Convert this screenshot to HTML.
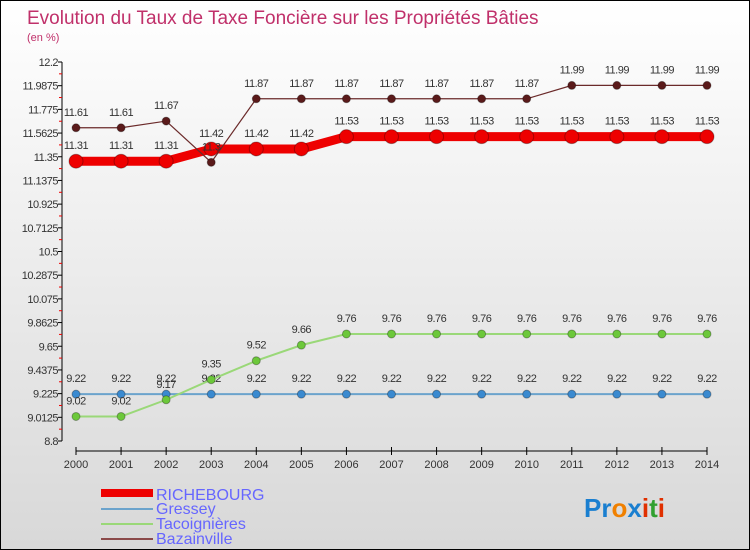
<!DOCTYPE html>
<html><head><meta charset="utf-8"><style>
body{margin:0}
#c{width:748px;height:548px;border:1px solid #000;background:linear-gradient(#fff,#d8d8d8);position:relative;font-family:"Liberation Sans",sans-serif;overflow:hidden}
</style></head><body>
<div id="c">
<svg id="s" width="748" height="548" style="position:absolute;left:0;top:0">
<text x="26" y="23" font-size="19" fill="#c0306a">Evolution du Taux de Taxe Foncière sur les Propriétés Bâties</text>
<text x="26" y="40" font-size="11" fill="#c0306a">(en %)</text>
<g id="axes"></g><g id="series"></g>
<g>
<rect x="100" y="488" width="52" height="8" fill="#e00"/>
<text x="155" y="499" font-size="16" fill="#66f">RICHEBOURG</text>
<line x1="100" y1="508" x2="152" y2="508" stroke="#6ba3cc" stroke-width="2"/>
<text x="155" y="513" font-size="16" fill="#66f">Gressey</text>
<line x1="100" y1="523" x2="152" y2="523" stroke="#9ad878" stroke-width="2"/>
<text x="155" y="528" font-size="16" fill="#66f">Tacoignières</text>
<line x1="100" y1="538" x2="152" y2="538" stroke="#8b4a4a" stroke-width="2"/>
<text x="155" y="543" font-size="16" fill="#66f">Bazainville</text>
</g>
<g font-size="26" font-weight="bold">
<text x="583" y="516"><tspan fill="#1a7fd0">Pr</tspan><tspan fill="#f08000">o</tspan><tspan fill="#1a7fd0">x</tspan><tspan fill="#e03000">i</tspan><tspan fill="#30a030">t</tspan><tspan fill="#e03000">i</tspan></text>
</g>
</svg>
</div>
<script>
const years=[2000,2001,2002,2003,2004,2005,2006,2007,2008,2009,2010,2011,2012,2013,2014];
const yTicks=["12.2","11.9875","11.775","11.5625","11.35","11.1375","10.925","10.7125","10.5","10.2875","10.075","9.8625","9.65","9.4375","9.225","9.0125","8.8"];
const richebourg=[11.31,11.31,11.31,11.42,11.42,11.42,11.53,11.53,11.53,11.53,11.53,11.53,11.53,11.53,11.53];
const gressey=[9.22,9.22,9.22,9.22,9.22,9.22,9.22,9.22,9.22,9.22,9.22,9.22,9.22,9.22,9.22];
const tacoignieres=[9.02,9.02,9.17,9.35,9.52,9.66,9.76,9.76,9.76,9.76,9.76,9.76,9.76,9.76,9.76];
const bazainville=[11.61,11.61,11.67,11.3,11.87,11.87,11.87,11.87,11.87,11.87,11.87,11.99,11.99,11.99,11.99];
const NS="http://www.w3.org/2000/svg";
const yMin=8.8,yMax=12.2,yTop=61,yBot=440;
function X(i){return 75+i*(706-75)/(years.length-1);}
function Y(v){return yBot-(v-yMin)/(yMax-yMin)*(yBot-yTop);}
function mk(t,a,p){const e=document.createElementNS(NS,t);for(const k in a)e.setAttribute(k,a[k]);p.appendChild(e);return e;}
const ax=document.getElementById('axes');
let yl=mk('line',{x1:61,y1:yTop,x2:61,y2:yBot,stroke:'#000'},ax);


let xl=mk('line',{x1:75,y1:450,x2:706,y2:450,stroke:'#000'},ax);


yTicks.forEach((t,i)=>{const v=parseFloat(t),y=Y(v);
mk('line',{x1:57,y1:y,x2:61,y2:y,stroke:'#000'},ax);
if(i<yTicks.length-1){const ym=(y+Y(parseFloat(yTicks[i+1])))/2;mk('line',{x1:58,y1:ym,x2:61,y2:ym,stroke:'#e00'},ax);}
const tx=mk('text',{x:57,y:y+4,'font-size':11,fill:'#333','text-anchor':'end','letter-spacing':'-0.5'},ax);tx.textContent=t;

});
years.forEach((yr,i)=>{mk('line',{x1:X(i),y1:446,x2:X(i),y2:454,stroke:'#000'},ax);
const tx=mk('text',{x:X(i),y:467,'font-size':11,fill:'#333','text-anchor':'middle'},ax);tx.textContent=yr;

});
const sg=document.getElementById('series');
function draw(name,vals,color,w,r,fill){const g=mk('g',{},sg);


mk('polyline',{points:vals.map((v,i)=>X(i)+','+Y(v)).join(' '),fill:'none',stroke:color,'stroke-width':w},g);
vals.forEach((v,i)=>{const c=mk('circle',{cx:X(i),cy:Y(v),r:r,fill:fill,stroke:'rgba(0,0,0,0.3)'},g);


const t=mk('text',{x:X(i),y:Y(v)-12,'font-size':11,fill:'#333','text-anchor':'middle','letter-spacing':'-0.5'},g);t.textContent=v;

});}
draw('gressey',gressey,'#6ba3cc',2,4,'#3a8ad0');
draw('tacoignieres',tacoignieres,'#9ad878',2,4,'#6cc83a');
draw('richebourg',richebourg,'#e00',9,7,'#e00');
draw('bazainville',bazainville,'#6b2a2a',1.2,4,'#5a1a1a');
</script>
</body></html>
